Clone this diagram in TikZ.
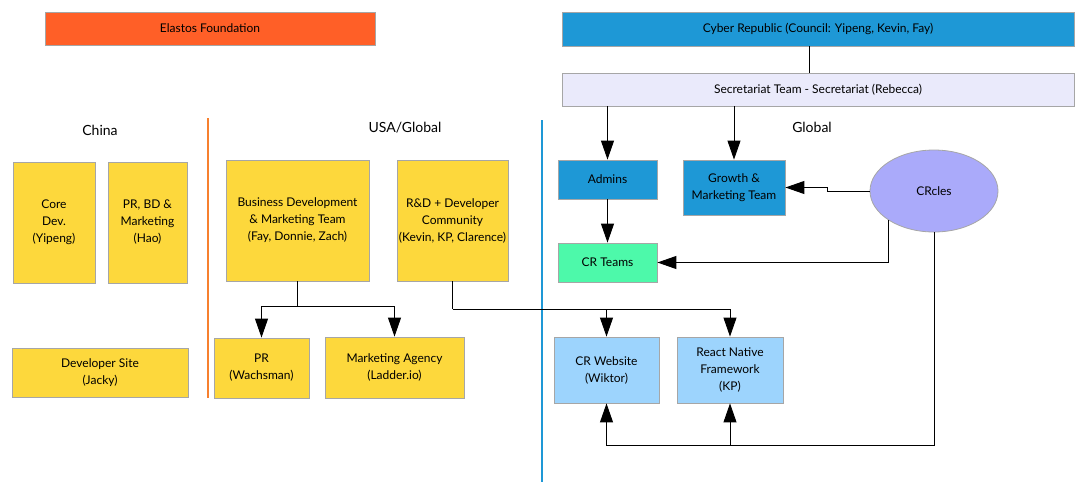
\documentclass[tikz,border=0pt]{standalone}
\usepackage{fontspec}
\setmainfont{Lato}
\usetikzlibrary{arrows.meta,shapes.geometric}
\definecolor{elaorange}{HTML}{FF5F27}
\definecolor{lineorange}{HTML}{F7802F}
\definecolor{crblue}{HTML}{1E98D6}
\definecolor{secrlav}{HTML}{EAEAFB}
\definecolor{teamyellow}{HTML}{FDD83C}
\definecolor{teamgreen}{HTML}{4DF9AA}
\definecolor{lightblue}{HTML}{9DD4FD}
\definecolor{circlelav}{HTML}{AAAAFA}
\definecolor{boxline}{HTML}{A6A6A6}
\begin{document}
\begin{tikzpicture}[x=1pt,y=-1pt,
    box/.style={draw=boxline,line width=0.8pt,align=center,inner sep=2pt,
                font=\fontsize{12}{17}\selectfont},
    head/.style={font=\fontsize{14}{16}\selectfont},
    arr/.style={line width=0.9pt,-{Triangle[width=13pt,length=19pt]}},
    link/.style={line width=0.9pt}]
\useasboundingbox (0,0) rectangle (1081,490);
% top level
\node[box,fill=elaorange,minimum width=330,minimum height=33] (ela) at (210,28.5) {Elastos Foundation};
\node[box,fill=crblue,minimum width=512,minimum height=34] (cyber) at (818,29) {Cyber Republic (Council: Yipeng, Kevin, Fay)};
\node[box,fill=secrlav,minimum width=512,minimum height=33] (secr) at (818,89.5) {Secretariat Team - Secretariat (Rebecca)};
% region headings and dividers
\node[head] (china) at (100,130) {China};
\node[head] (usa) at (405,128) {USA/Global};
\node[head] (global) at (812,127) {Global};
\draw[lineorange,line width=2pt] (208,118) -- (208,398);
\draw[crblue,line width=2pt] (542,120) -- (542,482);
% China
\node[box,fill=teamyellow,minimum width=82,minimum height=121] (core) at (54,222.5) {Core\\Dev.\\(Yipeng)};
\node[box,fill=teamyellow,minimum width=79,minimum height=121] (prbd) at (147.5,222.5) {PR, BD \&\\Marketing\\(Hao)};
\node[box,fill=teamyellow,minimum width=176,minimum height=49] (devsite) at (100,372.5) {Developer Site\\(Jacky)};
% USA/Global
\node[box,fill=teamyellow,minimum width=143,minimum height=121] (bizdev) at (297.5,220.5) {Business Development\\\& Marketing Team\\(Fay, Donnie, Zach)};
\node[box,fill=teamyellow,minimum width=111,minimum height=121] (rnd) at (452.5,220.5) {R\&D + Developer\\Community\\(Kevin, KP, Clarence)};
\node[box,fill=teamyellow,minimum width=95,minimum height=60] (pr) at (261.5,368) {PR\\(Wachsman)};
\node[box,fill=teamyellow,minimum width=139,minimum height=61] (agency) at (394.5,367.5) {Marketing Agency\\(Ladder.io)};
% Global
\node[box,fill=crblue,minimum width=99,minimum height=39] (admins) at (607.5,179.5) {Admins};
\node[box,fill=crblue,minimum width=102,minimum height=55] (growth) at (734,187.5) {Growth \&\\Marketing Team};
\node[box,fill=teamgreen,minimum width=99,minimum height=39] (crteams) at (607.5,262.5) {CR Teams};
\node[box,ellipse,fill=circlelav,minimum width=128,minimum height=82,inner sep=0pt] (crcles) at (934,191) {CRcles};
\node[box,fill=lightblue,minimum width=105,minimum height=66] (crweb) at (606.5,370) {CR Website\\(Wiktor)};
\node[box,fill=lightblue,minimum width=106,minimum height=66] (rnative) at (730,370) {React Native\\Framework\\(KP)};
% connectors
\draw[link] ([xshift=-9pt]cyber.south) -- ([xshift=-9pt]secr.north);
\draw[arr] (secr.south -| admins) -- (admins);
\draw[arr] (secr.south -| growth) -- (growth);
\draw[arr] (admins) -- (crteams);
\draw[arr] (crcles.west) -- ++(-42,0) |- (growth.east);
\draw[arr] (crcles.south west) |- (crteams.east);
\coordinate (crbus) at (934,445);
\draw[arr] (crcles.south) -- (crbus) -| (crweb.south);
\draw[arr] (rnative.south |- crbus) -- (rnative.south);
\draw[link] (bizdev.south) -- ++(0,25) coordinate (bsplit);
\draw[arr] (bsplit) -| (pr.north);
\draw[arr] (bsplit) -| (agency.north);
\draw[link] (rnd.south) -- ++(0,28) coordinate (rsplit);
\draw[arr] (rsplit) -| (rnative.north);
\draw[arr] (crweb.north |- rsplit) -- (crweb.north);
\end{tikzpicture}
\end{document}
